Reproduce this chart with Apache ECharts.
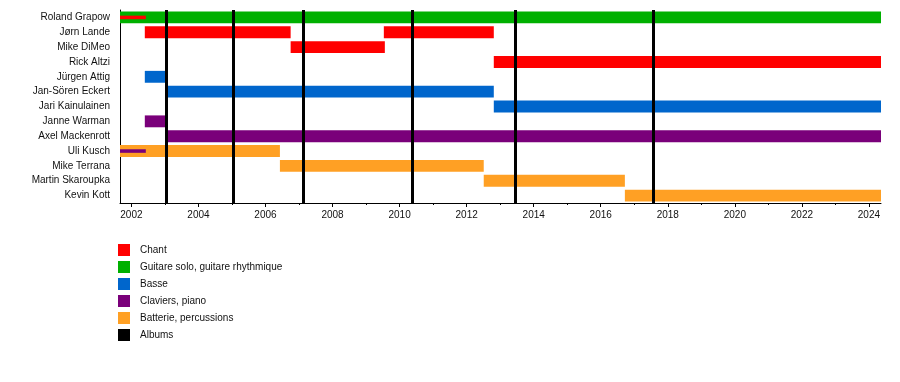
<!DOCTYPE html>
<html>
<head>
<meta charset="utf-8">
<script src="https://cdn.jsdelivr.net/npm/echarts@6/dist/echarts.min.js"></script>
<style>html,body{margin:0;padding:0;background:#fff}#c{width:900px;height:382px}</style>
</head>
<body>
<div id="c"></div>
<script>
const members = ['Roland Grapow','Jørn Lande','Mike DiMeo','Rick Altzi','Jürgen Attig','Jan-Sören Eckert','Jari Kainulainen','Janne Warman','Axel Mackenrott','Uli Kusch','Mike Terrana','Martin Skaroupka','Kevin Kott'];
const roles = ['Chant','Guitare solo, guitare rhythmique','Basse','Claviers, piano','Batterie, percussions'];
const roleColors = ['#ff0000','#00b000','#0066cc','#7a007a','#ffa024'];
// segments
const segMember = [0, 0, 1, 1, 2, 3, 4, 5, 6, 7, 8, 9, 9, 10, 11, 12];
const segRole   = [1, 0, 0, 0, 0, 0, 2, 2, 2, 3, 3, 4, 3, 4, 4, 4];
const segStart  = [2001.66, 2001.66, 2002.40, 2009.53, 2006.75, 2012.81, 2002.40, 2003.05, 2012.81, 2002.40, 2003.05, 2001.66, 2001.66, 2006.43, 2012.51, 2016.72];
const segEnd    = [2024.36, 2002.43, 2006.75, 2012.81, 2009.56, 2024.36, 2003.05, 2012.81, 2024.36, 2003.05, 2024.36, 2006.43, 2002.43, 2012.51, 2016.72, 2024.36];
const segThin   = [0, 1, 0, 0, 0, 0, 0, 0, 0, 0, 0, 0, 1, 0, 0, 0];
const albums = [2003.04, 2005.03, 2007.12, 2010.37, 2013.45, 2017.56];
const majorTicks = [2002,2004,2006,2008,2010,2012,2014,2016,2018,2020,2022,2024];
const minorTicks = [2003,2005,2007,2009,2011,2013,2015,2017,2019,2021,2023];
const xMin = 2001.66, xMax = 2024.36;

function renderBar(params, api) {
  const s = api.coord([api.value(0), api.value(2)]);
  const e = api.coord([api.value(1), api.value(2)]);
  const band = api.size([0, 1])[1];
  const h = api.value(3) ? band * 0.24 : band * 0.8;
  return {
    type: 'rect',
    shape: { x: s[0], y: s[1] - h / 2, width: e[0] - s[0], height: h },
    style: { fill: api.visual('color') }
  };
}

const series = roles.map((r, ri) => {
  const data = [];
  for (let i = 0; i < segMember.length; i++) {
    if (segRole[i] === ri) data.push([segStart[i], segEnd[i], segMember[i], segThin[i]]);
  }
  return {
    type: 'custom', name: r, renderItem: renderBar,
    itemStyle: { color: roleColors[ri] },
    encode: { x: [0, 1], y: 2 },
    z: (ri === 0 || ri === 3) ? 4 : 3,
    silent: true,
    data: data
  };
});
series.push({
  type: 'line', name: 'Albums', data: [], itemStyle: { color: '#000' }, z: 1,
  markLine: {
    silent: true, symbol: ['none', 'none'], label: { show: false },
    lineStyle: { color: '#000', width: 3, type: 'solid' },
    data: albums.map(a => ({ xAxis: a }))
  }
});

const chart = echarts.init(document.getElementById('c'), null, { renderer: 'canvas' });
chart.setOption({
  animation: false,
  backgroundColor: '#fff',
  textStyle: { fontFamily: 'Liberation Sans, Arial, sans-serif' },
  grid: { left: 120, right: 19, top: 10, bottom: 179, containLabel: false },
  legend: {
    orient: 'vertical', left: 113, top: 239,
    itemWidth: 12, itemHeight: 12, itemGap: 5, icon: 'rect',
    textStyle: { fontSize: 10, color: '#111', padding: [0, 0, 0, 5] },
    data: roles.concat(['Albums']).map(n => ({ name: n, icon: 'rect' })),
    selectedMode: false
  },
  xAxis: [{
    type: 'value', min: xMin, max: xMax, position: 'bottom',
    axisLine: { show: true, lineStyle: { color: '#000', width: 1 } },
    axisTick: { show: true, length: 4, lineStyle: { color: '#000' }, customValues: majorTicks },
    axisLabel: { fontSize: 10, color: '#111', margin: 7, customValues: majorTicks, formatter: v => String(Math.round(v)) },
    splitLine: { show: false }
  }, {
    type: 'value', min: xMin, max: xMax, position: 'bottom',
    axisLine: { show: false },
    axisTick: { show: true, length: 2, lineStyle: { color: '#000' }, customValues: minorTicks },
    axisLabel: { show: false },
    splitLine: { show: false }
  }],
  yAxis: {
    type: 'category', data: members, inverse: true,
    axisLine: { show: true, lineStyle: { color: '#000', width: 1 } },
    axisTick: { show: false },
    axisLabel: { fontSize: 10, color: '#111', margin: 10 },
    splitLine: { show: false }
  },
  series: series
});
</script>
</body>
</html>
